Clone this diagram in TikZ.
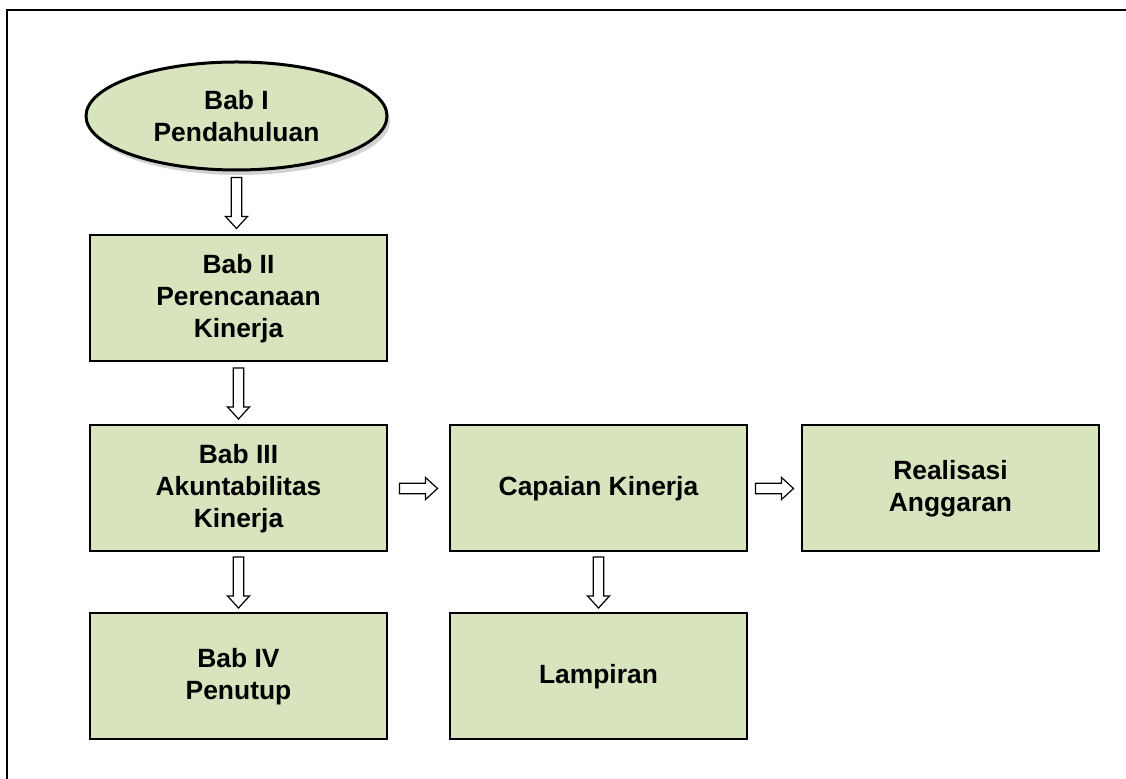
\documentclass[tikz,border=0pt]{standalone}
\usepackage{fontspec}
\setmainfont{Liberation Sans}
\usepackage{tikz}
\usetikzlibrary{shapes.geometric,positioning,calc,shadows}
\definecolor{babgreen}{HTML}{D7E4BD}
\tikzset{
  % Chapter box: green fill, bold label
  babbox/.style={draw, rectangle, fill=babgreen, minimum width=148.5pt, minimum height=63pt,
                 align=center, line width=1pt, inner sep=2pt,
                 font=\bfseries\fontsize{13.2}{16}\selectfont},
  % Opening chapter: ellipse with shadow
  babell/.style={babbox, ellipse, minimum width=150.5pt, minimum height=54pt, line width=1.5pt,
                 drop shadow={shadow xshift=1.5pt, shadow yshift=-2.5pt, fill=black!35}},
  % Hollow block arrow outline
  blockarr/.style={draw, fill=white, line width=0.6pt, line join=miter},
  % Page frame
  frameline/.style={line width=1pt}
}
% hollow arrow between two anchors: #1 from, #2 to, #3 angle, #4 half length
\newcommand{\hollowarr}[4]{%
  \begin{scope}[shift={($(#1)!0.5!(#2)$)}, rotate=#3]
    \draw[blockarr] (-#4,-2.6pt) -- ({#4-6pt},-2.6pt) -- ({#4-6pt},-5.5pt) -- (#4,0pt)
      -- ({#4-6pt},5.5pt) -- ({#4-6pt},2.6pt) -- (-#4,2.6pt) -- cycle;
  \end{scope}}

\begin{document}
\begin{tikzpicture}[x=0.5pt, y=-0.5pt]
\useasboundingbox (0,0) rectangle (1126,779);

% ============== Frame ==============
\draw[frameline] (6.5,800) -- (6.5,10.5) -- (1140,10.5);

% ============== Left column ==============
\node[babell] (bab1) at (236.5,116) {Bab I\\Pendahuluan};
\node[babbox, below=31.5pt of bab1, xshift=1pt] (bab2) {Bab II\\Perencanaan\\Kinerja};
\node[babbox, below=31pt of bab2] (bab3) {Bab III\\Akuntabilitas\\Kinerja};
\node[babbox, below=30pt of bab3] (bab4) {Bab IV\\Penutup};

% ============== Right side ==============
\node[babbox, right=30.5pt of bab3] (capaian) {Capaian Kinerja};
\node[babbox, right=26.5pt of capaian] (realisasi) {Realisasi\\Anggaran};
\node[babbox, below=30pt of capaian] (lampiran) {Lampiran};

% ============== Arrows ==============
\hollowarr{bab1.south}{bab1.south |- bab2.north}{-90}{12.75pt}
\hollowarr{bab2.south}{bab3.north}{-90}{12.75pt}
\hollowarr{bab3.south}{bab4.north}{-90}{12.75pt}
\hollowarr{capaian.south}{lampiran.north}{-90}{12.75pt}
\hollowarr{bab3.east}{capaian.west}{0}{9.5pt}
\hollowarr{capaian.east}{realisasi.west}{0}{9.5pt}

\end{tikzpicture}
\end{document}
